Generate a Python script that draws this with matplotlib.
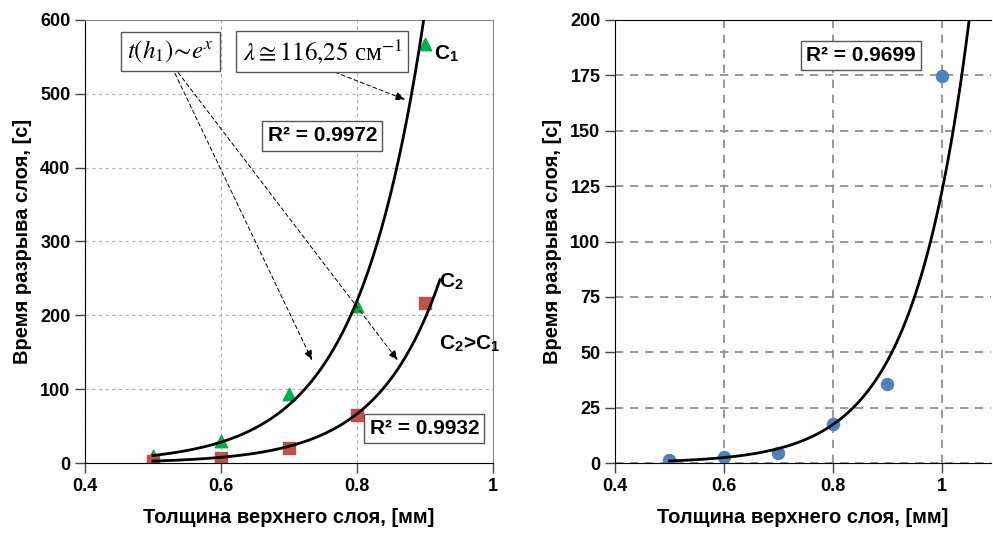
import matplotlib
matplotlib.use("Agg")
import matplotlib.pyplot as plt
import numpy as np

plt.rcParams['font.family'] = ['Liberation Sans Narrow', 'Liberation Sans', 'DejaVu Sans']
plt.rcParams['mathtext.fontset'] = 'stix'

# left chart data
thickness = [0.5, 0.6, 0.7, 0.8, 0.9]
time_c1 = [9, 30, 93, 213, 568]
time_c2 = [3, 7, 20, 65, 217]
r2_c1 = "R² = 0.9972"
r2_c2 = "R² = 0.9932"

# right chart data
thickness_r = [0.5, 0.6, 0.7, 0.8, 0.9, 1.0]
time_r = [1.2, 2.5, 4.5, 17.5, 35.5, 174.5]
r2_r = "R² = 0.9699"

xlabel = "Толщина верхнего слоя, [мм]"
ylabel = "Время разрыва слоя, [с]"


def expfit(x, y, x0, x1):
    b, a = np.polyfit(x, np.log(y), 1)
    xs = np.linspace(x0, x1, 200)
    return xs, np.exp(a + b * xs)


def style_ticks(ax):
    ax.tick_params(labelsize=13, length=7, width=1, color='#444444')
    for lab in ax.get_xticklabels() + ax.get_yticklabels():
        lab.set_fontweight('bold')


fig = plt.figure(figsize=(9.93, 5.38), dpi=100)
ax1 = fig.add_axes([85 / 993, 75 / 538, 408 / 993, 443 / 538])
ax2 = fig.add_axes([615 / 993, 75 / 538, 376 / 993, 443 / 538])

label_fs = 14.5
box = dict(boxstyle='square,pad=0.25', fc='white', ec='#555555', lw=1)

# ---- left ----
xs, ys = expfit(thickness, time_c1, 0.5, 0.92)
ax1.plot(xs, ys, color='black', lw=2, zorder=3)
xs, ys = expfit(thickness, time_c2, 0.5, 0.922)
ax1.plot(xs, ys, color='black', lw=2, zorder=3)
ax1.scatter(thickness, time_c1, marker='^', s=80, color='#00B050', zorder=2)
ax1.scatter(thickness, time_c2, marker='s', s=75, color='#C0504D', zorder=2)

ax1.set_xlim(0.4, 1.0)
ax1.set_ylim(0, 600)
ax1.set_xticks([0.4, 0.6, 0.8, 1.0])
ax1.set_xticklabels(['0.4', '0.6', '0.8', '1'])
ax1.set_yticks(range(0, 601, 100))
ax1.grid(True, ls=(0, (3, 3)), color='#b0b0b0', lw=0.8)
for s in ['top', 'right']:
    ax1.spines[s].set_color('#888888')
style_ticks(ax1)

ax1.text(0.526, 557, r"$t(h_1)\!\sim\! e^x$", fontsize=18, ha='center', va='center',
         bbox=box, zorder=5)
ax1.text(0.749, 557, r"$\lambda \cong 116{,}25$ см$^{-1}$", fontsize=18, ha='center',
         va='center', family='Liberation Serif', bbox=box, zorder=5)
arw = dict(arrowstyle='-|>,head_length=0.6,head_width=0.25', ls=(0, (4, 3)), lw=0.7,
           color='black', shrinkA=0, shrinkB=0)
ax1.annotate("", xy=(0.734, 139), xytext=(0.528, 536), arrowprops=arw)
ax1.annotate("", xy=(0.860, 139), xytext=(0.531, 536), arrowprops=arw)
ax1.annotate("", xy=(0.871, 492), xytext=(0.749, 536), arrowprops=arw)

ax1.text(0.749, 443, r2_c1, fontsize=15, fontweight='bold', ha='center', va='center',
         bbox=box, zorder=5)
ax1.text(0.899, 47, r2_c2, fontsize=15, fontweight='bold', ha='center', va='center',
         bbox=box, zorder=5)
ax1.text(0.913, 555, r"C$_\mathdefault{1}$", fontsize=15, fontweight='bold',
         ha='left', va='center')
ax1.text(0.92, 245, r"C$_\mathdefault{2}$", fontsize=15, fontweight='bold',
         ha='left', va='center')
ax1.text(0.92, 162, r"C$_\mathdefault{2}$>C$_\mathdefault{1}$", fontsize=15,
         fontweight='bold', ha='left', va='center')

ax1.set_xlabel(xlabel, fontsize=label_fs, fontweight='bold', labelpad=10)
ax1.set_ylabel(ylabel, fontsize=label_fs, fontweight='bold', labelpad=6)

# ---- right ----
xs, ys = expfit(thickness_r, time_r, 0.5, 1.05)
ax2.plot(xs, ys, color='black', lw=2, zorder=3)
ax2.scatter(thickness_r, time_r, s=75, color='#4F81BD', zorder=2)

ax2.set_xlim(0.4, 1.09)
ax2.set_ylim(0, 200)
ax2.set_xticks([0.4, 0.6, 0.8, 1.0])
ax2.set_xticklabels(['0.4', '0.6', '0.8', '1'])
ax2.set_yticks(range(0, 201, 25))
ax2.grid(True, ls=(0, (5, 4)), color='#888888', lw=1.2)
ax2.spines['right'].set_visible(False)
style_ticks(ax2)
ax2.text(0.851, 184, r2_r, fontsize=15, fontweight='bold', ha='center', va='center',
         bbox=box, zorder=5)

ax2.set_xlabel(xlabel, fontsize=label_fs, fontweight='bold', labelpad=10)
ax2.set_ylabel(ylabel, fontsize=label_fs, fontweight='bold', labelpad=6)

fig.savefig("out.png", dpi=100)
